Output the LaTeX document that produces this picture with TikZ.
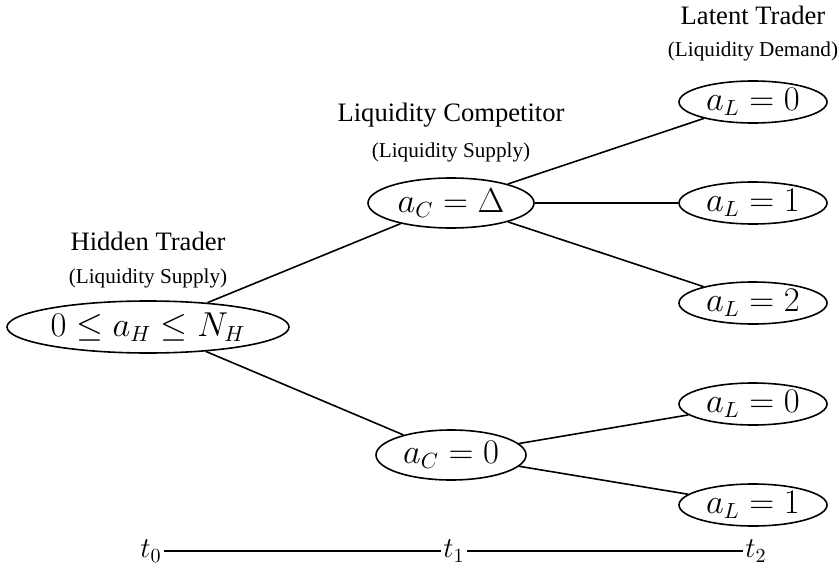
\documentclass[tikz,border=0pt]{standalone}
\usepackage[no-math]{fontspec}
\setmainfont{Liberation Serif}
\usetikzlibrary{shapes.geometric}

\begin{document}
\begin{tikzpicture}[x=.5pt,y=-.5pt,line width=.8pt,
  choice/.style={ellipse,draw,inner sep=0pt,minimum width=74pt,minimum height=21pt,font=\fontsize{16}{19}\selectfont},
  role/.style={inner sep=0pt,font=\fontsize{13.3}{16}\selectfont},
  side/.style={inner sep=0pt,font=\fontsize{10.6}{13}\selectfont},
  tick/.style={inner sep=1pt,font=\fontsize{14}{17}\selectfont}]
\path[use as bounding box] (0,0) rectangle (839,567);
% players
\node[role] (hidT) at (148,241) {Hidden Trader};
\node[side] (hidS) at (148,278) {(Liquidity Supply)};
\node[role] (comT) at (451,115) {Liquidity Competitor};
\node[side] (comS) at (451,152) {(Liquidity Supply)};
\node[role] (latT) at (753,15) {Latent Trader};
\node[side] (latS) at (753,51) {(Liquidity Demand)};
% actions
\node[choice,minimum width=141pt,minimum height=26pt] (hid) at (148,327) {$0\leq a_H\leq N_H$};
\node[choice,minimum width=83pt,minimum height=25pt] (comD) at (451,203) {$a_C=\Delta$};
\node[choice,minimum width=75pt,minimum height=25pt] (com0) at (451,455) {$a_C=0$};
\node[choice] (latA) at (753,102) {$a_L=0$};
\node[choice] (latB) at (753,203) {$a_L=1$};
\node[choice] (latC) at (753,303) {$a_L=2$};
\node[choice] (latD) at (753,404) {$a_L=0$};
\node[choice] (latE) at (753,505) {$a_L=1$};
\draw (hid) -- (comD);
\draw (hid) -- (com0);
\draw (comD) -- (latA);
\draw (comD) -- (latB);
\draw (comD) -- (latC);
\draw (com0) -- (latD);
\draw (com0) -- (latE);
% time axis
\node[tick] (t0) at (151,551) {$t_0$};
\node[tick] (t1) at (454,551) {$t_1$};
\node[tick] (t2) at (756,551) {$t_2$};
\draw (t0) -- (t1) -- (t2);
\end{tikzpicture}
\end{document}
